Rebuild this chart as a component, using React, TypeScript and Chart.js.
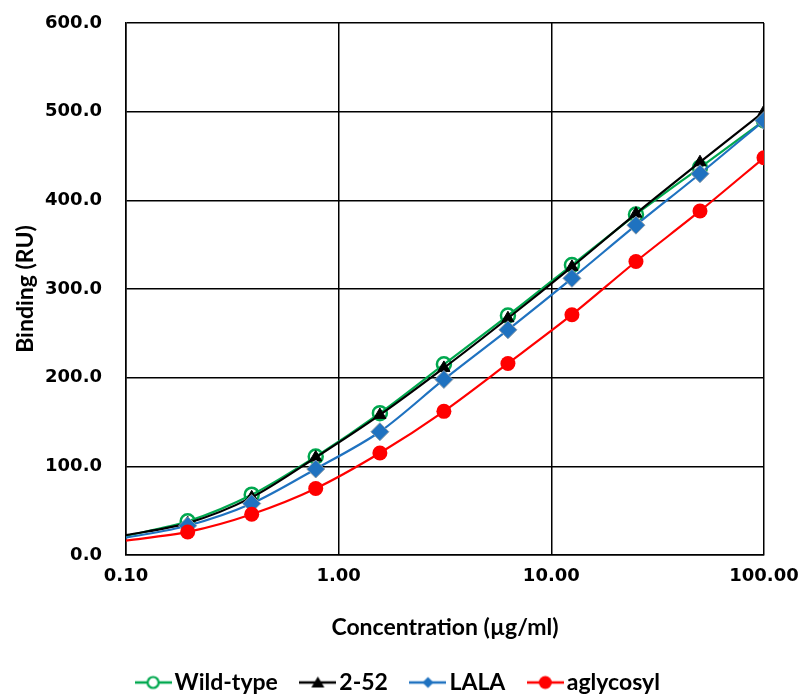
import React, { useEffect, useRef } from "react";
import { Chart, registerables } from "chart.js";

Chart.register(...registerables);

const concentrations = [0.0977, 0.195, 0.39, 0.78, 1.5625, 3.125, 6.25, 12.5, 25, 50, 100];
const wildType = [21, 38, 68, 111, 160, 215, 270, 327, 384, 437, 490];
const twoFiftyTwo = [22, 36, 65, 110, 158, 211, 267, 325, 385, 443, 500];
const lala = [19, 33, 58, 97, 139, 198, 254, 312, 372, 430, 490];
const aglycosyl = [16, 26, 46, 75, 115, 162, 216, 271, 331, 388, 448];
const xTicks = [0.1, 1, 10, 100];
const seriesNames = ["Wild-type", "2-52", "LALA", "aglycosyl"];

const GREEN = "#00A84F";
const BLACK = "#000000";
const BLUE = "#1F72C0";
const RED = "#FF0000";

function legendImage(color: string, style: string): HTMLCanvasElement {
  const c = document.createElement("canvas");
  c.width = 37;
  c.height = 16;
  const g = c.getContext("2d")!;
  g.strokeStyle = color;
  g.lineWidth = 2.5;
  g.beginPath();
  g.moveTo(0, 8);
  g.lineTo(37, 8);
  g.stroke();
  const cx = 18.5;
  if (style === "circleOpen") {
    g.fillStyle = "#fff";
    g.lineWidth = 2.2;
    g.beginPath();
    g.arc(cx, 8, 5.5, 0, Math.PI * 2);
    g.fill();
    g.stroke();
  } else if (style === "triangle") {
    g.fillStyle = color;
    g.beginPath();
    g.moveTo(cx, 2);
    g.lineTo(cx + 6.5, 13);
    g.lineTo(cx - 6.5, 13);
    g.closePath();
    g.fill();
  } else if (style === "diamond") {
    g.fillStyle = color;
    g.beginPath();
    g.moveTo(cx, 2.5);
    g.lineTo(cx + 5.5, 8);
    g.lineTo(cx, 13.5);
    g.lineTo(cx - 5.5, 8);
    g.closePath();
    g.fill();
  } else {
    g.fillStyle = color;
    g.beginPath();
    g.arc(cx, 8, 6.5, 0, Math.PI * 2);
    g.fill();
  }
  return c;
}

const hideFirst = (r: number) => (ctx: any) => (ctx.dataIndex === 0 ? 0 : r);

export default function App() {
  const ref = useRef<HTMLCanvasElement | null>(null);
  useEffect(() => {
    const toPts = (vals: number[]) => concentrations.map((x, i) => ({ x, y: vals[i] }));
    const styles = ["circleOpen", "triangle", "diamond", "circle"];
    const colors = [GREEN, BLACK, BLUE, RED];
    const chart = new Chart(ref.current!, {
      type: "line",
      data: {
        datasets: [
          {
            label: seriesNames[0],
            data: toPts(wildType),
            borderColor: GREEN,
            backgroundColor: "rgba(255,255,255,0)",
            borderWidth: 2.2,
            pointStyle: "circle",
            pointRadius: hideFirst(7),
            pointBorderWidth: 2.5,
            pointBorderColor: GREEN,
            pointBackgroundColor: "rgba(255,255,255,0)",
            tension: 0.3,
            order: 4,
          },
          {
            label: seriesNames[1],
            data: toPts(twoFiftyTwo),
            borderColor: BLACK,
            backgroundColor: BLACK,
            borderWidth: 2.2,
            pointStyle: "triangle",
            pointRadius: hideFirst(7),
            pointBorderWidth: 1,
            pointBorderColor: BLACK,
            pointBackgroundColor: BLACK,
            tension: 0.3,
            order: 3,
          },
          {
            label: seriesNames[2],
            data: toPts(lala),
            borderColor: BLUE,
            backgroundColor: BLUE,
            borderWidth: 2.2,
            pointStyle: "rectRot",
            pointRadius: hideFirst(9),
            pointBorderWidth: 1,
            pointBorderColor: "#8a9aa8",
            pointBackgroundColor: BLUE,
            tension: 0.3,
            order: 2,
          },
          {
            label: seriesNames[3],
            data: toPts(aglycosyl),
            borderColor: RED,
            backgroundColor: RED,
            borderWidth: 2.2,
            pointStyle: "circle",
            pointRadius: hideFirst(7.5),
            pointBorderWidth: 0,
            pointBackgroundColor: RED,
            tension: 0.3,
            order: 1,
          },
        ],
      },
      options: {
        animation: false,
        responsive: true,
        maintainAspectRatio: false,
        layout: { padding: { left: 0, right: 0, top: 23, bottom: 0 } },
        plugins: {
          tooltip: { enabled: false },
          legend: {
            position: "bottom",
            labels: {
              usePointStyle: true,
              pointStyleWidth: 20,
              padding: 30,
              color: "#000",
              font: { family: "Lato", weight: "bold", size: 23 },
              generateLabels: () =>
                seriesNames.map((n, i) => ({
                  text: n,
                  pointStyle: legendImage(colors[i], styles[i]) as any,
                  fillStyle: colors[i],
                  strokeStyle: colors[i],
                  lineWidth: 0,
                  hidden: false,
                  datasetIndex: i,
                  fontColor: "#000",
                })),
            },
          },
        },
        scales: {
          x: {
            type: "logarithmic",
            min: 0.1,
            max: 100,
            afterBuildTicks: (axis: any) => {
              axis.ticks = xTicks.map((v) => ({ value: v }));
            },
            afterFit: (axis: any) => {
              axis.paddingLeft = 0;
              axis.paddingRight = 39;
              axis.height = 86;
            },
            ticks: {
              color: "#000",
              font: { family: "DejaVu Sans", weight: "bold", size: 18 },
              padding: 11,
              maxRotation: 0,
              autoSkip: false,
              callback: (v: any) => Number(v).toFixed(2),
            },
            grid: { color: "#000", lineWidth: 1.5, drawTicks: false },
            border: { color: "#000", width: 1.5 },
            title: {
              display: true,
              text: "Concentration (µg/ml)",
              color: "#000",
              font: { family: "Lato", weight: "bold", size: 23 },
              padding: { top: 10, bottom: 0 },
            },
          },
          y: {
            type: "linear",
            min: 0,
            max: 600,
            afterFit: (axis: any) => {
              axis.width = 126;
              axis.paddingTop = 0;
              axis.paddingBottom = 0;
            },
            ticks: {
              stepSize: 100,
              color: "#000",
              font: { family: "DejaVu Sans", weight: "bold", size: 18 },
              padding: 24,
              callback: (v: any) => Number(v).toFixed(1),
            },
            grid: { color: "#000", lineWidth: 1.5, drawTicks: false },
            border: { color: "#000", width: 1.5 },
            title: {
              display: true,
              text: "Binding (RU)",
              color: "#000",
              font: { family: "Lato", weight: "bold", size: 23 },
              padding: { top: 12, bottom: 0 },
            },
          },
        },
      },
    });
    return () => chart.destroy();
  }, []);
  return (
    <div style={{ position: "fixed", left: 0, top: 0, width: 803, height: 704, background: "#fff" }}>
      <canvas ref={ref} />
    </div>
  );
}
